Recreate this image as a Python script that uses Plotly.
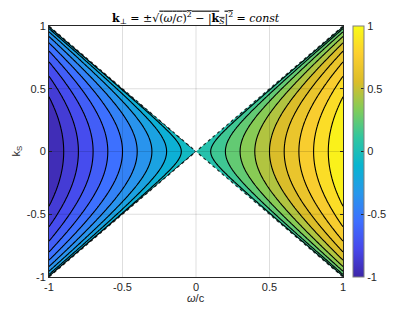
import numpy as np
import plotly.graph_objects as go

# axis samples (normalised frequency omega/c and surface wave-number k_S)
omega_c = np.linspace(-1, 1, 241)
k_s = np.linspace(-1, 1, 241)
levels = dict(start=-1.0, end=1.0, size=0.1)
tick_vals = [-1, -0.5, 0, 0.5, 1]
tick_text = ["-1", "-0.5", "0", "0.5", "1"]

# MATLAB parula (10 samples)
parula = [
    [0.2422, 0.1504, 0.6603], [0.2803, 0.2782, 0.9221], [0.2440, 0.4358, 0.9988],
    [0.1540, 0.5902, 0.9218], [0.0297, 0.7082, 0.8163], [0.1938, 0.7758, 0.6251],
    [0.5044, 0.7993, 0.3480], [0.8634, 0.7406, 0.1596], [0.9892, 0.8136, 0.1885],
    [0.9769, 0.9839, 0.0805],
]
colorscale = [[i / (len(parula) - 1),
               "rgb(%d,%d,%d)" % tuple(int(round(c * 255)) for c in col)]
              for i, col in enumerate(parula)]

W, K = np.meshgrid(omega_c, k_s)
k_perp = np.sign(W) * np.sqrt(np.clip(W ** 2 - K ** 2, 0, None))

# page body has an 8px margin: size the figure so the plot lands where the reference has it
OFF = 8
FIG_W, FIG_H = 415 - OFF, 312 - OFF
PL, PR, PT, PB = 49 - OFF, 343 - OFF, 24 - OFF, 277 - OFF
PW, PH = PR - PL, PB - PT

fig = go.Figure()
fig.add_trace(go.Contour(
    x=omega_c, y=k_s, z=k_perp,
    colorscale=colorscale, zmin=-1, zmax=1,
    contours=dict(coloring="fill", **levels),
    autocontour=False,
    line=dict(color="black", width=1.1),
    showscale=False,
    hoverinfo="skip",
))
# continuous colour bar
fig.add_trace(go.Scatter(
    x=[0, 0], y=[0.9, 0.9], mode="markers",
    marker=dict(size=1, opacity=0, color=[-1, 1], cmin=-1, cmax=1,
                colorscale=colorscale, showscale=True,
                colorbar=dict(
                    x=(353 - 49) / PW, xanchor="left", xpad=0,
                    y=0.5, yanchor="middle", ypad=0, len=1, lenmode="fraction",
                    thickness=11, outlinecolor="#7f7f7f", outlinewidth=1,
                    ticks="inside", ticklen=3, tickcolor="#262626",
                    tickvals=tick_vals, ticktext=tick_text,
                    tickfont=dict(family="Liberation Sans, Arial", size=11, color="#262626"),
                )),
    hoverinfo="skip", showlegend=False,
))

shapes = []
# blank out the region outside the light cone
shapes.append(dict(type="path", xref="x", yref="y", layer="above",
                   path="M -1 1 L 1 1 L 0 0 Z", fillcolor="white", line=dict(width=0)))
shapes.append(dict(type="path", xref="x", yref="y", layer="above",
                   path="M -1 -1 L 1 -1 L 0 0 Z", fillcolor="white", line=dict(width=0)))
# cone edges
for sx, sy in [(-1, 1), (1, 1), (-1, -1), (1, -1)]:
    shapes.append(dict(type="line", xref="x", yref="y", layer="above",
                       x0=0.02 * sx, y0=0.02 * sy, x1=sx, y1=sy,
                       line=dict(color="rgba(0,0,0,0.8)", width=1.2, dash="dot")))
# grid lines on top
for v in [-0.5, 0, 0.5]:
    shapes.append(dict(type="line", xref="x", yref="y", layer="above",
                       x0=v, x1=v, y0=-1, y1=1, line=dict(color="rgba(0,0,0,0.13)", width=1)))
    shapes.append(dict(type="line", xref="x", yref="y", layer="above",
                       x0=-1, x1=1, y0=v, y1=v, line=dict(color="rgba(0,0,0,0.13)", width=1)))

axis_common = dict(
    range=[-1, 1], showgrid=False, zeroline=False,
    showline=True, linecolor="#262626", linewidth=1, mirror="allticks",
    ticks="inside", ticklen=3, tickcolor="#262626",
    tickvals=tick_vals, ticktext=tick_text,
    tickfont=dict(family="Liberation Sans, Arial", size=11, color="#262626"),
    layer="above traces",
)

fig.update_layout(
    width=FIG_W, height=FIG_H,
    margin=dict(l=PL, r=FIG_W - PR, t=PT, b=FIG_H - PB),
    paper_bgcolor="white", plot_bgcolor="white",
    xaxis=dict(**axis_common),
    yaxis=dict(**axis_common),
    shapes=shapes,
    showlegend=False,
    annotations=[
        dict(xref="paper", yref="paper", x=0.5, y=1 + 8 / PH, xanchor="center", yanchor="middle",
             showarrow=False,
             text="<b>k</b><sub>⊥</sub> = ±√<span style='text-decoration:overline'>(<i>ω</i>/<i>c</i>)<sup>2</sup> − |<b>k</b><sub><i>S</i></sub>|<sup>2</sup></span> = <i>const</i>",
             font=dict(family="DejaVu Serif, Liberation Serif, serif", size=11, color="black")),
        dict(xref="paper", yref="paper", x=0.5, y=-21 / PH, xanchor="center", yanchor="middle",
             showarrow=False, text="<i>ω</i>/c",
             font=dict(family="Liberation Sans, Arial", size=11, color="#262626")),
        dict(xref="paper", yref="paper", x=-33 / PW, y=0.5, xanchor="center", yanchor="middle",
             showarrow=False, textangle=-90, text="k<sub>S</sub>",
             font=dict(family="Liberation Sans, Arial", size=11, color="#262626")),
    ],
)

fig.write_html("out.html")
